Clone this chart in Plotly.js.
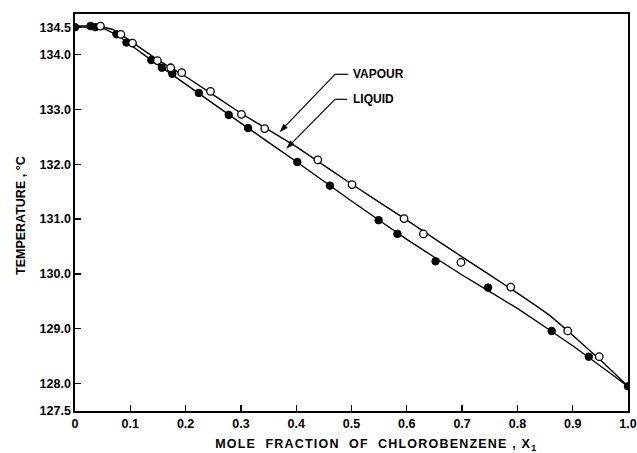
<!DOCTYPE html>
<html>
<head>
<meta charset="utf-8">
<script src="https://cdn.plot.ly/plotly-3.0.1.min.js"></script>
<style>
html,body{margin:0;padding:0;background:#fff;}
#chart{width:637px;height:453px;}
</style>
</head>
<body>
<div id="chart"></div>
<script>
// Measured points: liquid (filled circles)
const liquidX = [0.0, 0.028, 0.037, 0.075, 0.093, 0.138, 0.157, 0.176, 0.224, 0.278, 0.313, 0.402, 0.461, 0.549, 0.583, 0.652, 0.747, 0.862, 0.929, 1.0];
const liquidT = [134.50, 134.52, 134.50, 134.37, 134.22, 133.90, 133.76, 133.65, 133.30, 132.90, 132.66, 132.04, 131.61, 130.98, 130.73, 130.23, 129.75, 128.96, 128.49, 127.95];
// Measured points: vapour (open circles)
const vapourX = [0.046, 0.083, 0.104, 0.149, 0.173, 0.193, 0.245, 0.301, 0.343, 0.439, 0.501, 0.595, 0.630, 0.698, 0.788, 0.891, 0.948];
const vapourT = [134.52, 134.37, 134.21, 133.89, 133.76, 133.67, 133.33, 132.91, 132.65, 132.08, 131.63, 131.01, 130.73, 130.21, 129.76, 128.96, 128.49];
// Drawn curves
const liqCurveX = [0, 0.03, 0.055, 0.08, 0.12, 0.2, 0.3, 0.4, 0.5, 0.6, 0.7, 0.8, 0.9, 1.0];
const liqCurveT = [134.5, 134.5, 134.46, 134.33, 134.03, 133.46, 132.75, 132.05, 131.33, 130.63, 129.98, 129.37, 128.69, 127.95];
const vapCurveX = [0, 0.04, 0.07, 0.1, 0.15, 0.2, 0.3, 0.4, 0.5, 0.6, 0.7, 0.8, 0.86, 0.9, 0.95, 1.0];
const vapCurveT = [134.52, 134.52, 134.45, 134.25, 133.9, 133.6, 132.93, 132.32, 131.64, 130.98, 130.31, 129.65, 129.23, 128.88, 128.43, 127.95];
// Ticks
const xTickVals = [0, 0.1, 0.2, 0.3, 0.4, 0.5, 0.6, 0.7, 0.8, 0.9, 1.0];
const xTickText = ['0', '0.1', '0.2', '0.3', '0.4', '0.5', '0.6', '0.7', '0.8', '0.9', '1.0'];
const yTickVals = [127.5, 128, 129, 130, 131, 132, 133, 134, 134.5];
const yTickText = ['127.5', '128.0', '129.0', '130.0', '131.0', '132.0', '133.0', '134.0', '134.5'];
// Labels
const labels = {vapour: 'VAPOUR', liquid: 'LIQUID'};
const xTitle = 'MOLE  FRACTION  OF  CHLOROBENZENE , X<sub>1</sub>';
const yTitle = 'TEMPERATURE , °C';

const FONT = 'Liberation Sans, Arial, sans-serif';
const W = 637, H = 453, M = {l: 75, r: 9, t: 14, b: 42};
const XR = [0, 1], YR = [127.5, 134.74];
const plotW = W - M.l - M.r, plotH = H - M.t - M.b;
// pixel -> data helpers for annotation geometry
const px2x = px => XR[0] + (px - M.l) / plotW * (XR[1] - XR[0]);
const py2y = py => YR[1] - (py - M.t) / plotH * (YR[1] - YR[0]);

function leader(bend, tip, hEnd) {
  const dx = tip[0] - bend[0], dy = tip[1] - bend[1];
  const L = Math.hypot(dx, dy), ux = dx / L, uy = dy / L;
  const len = 8, hw = 2.6;
  const bx = tip[0] - ux * len, by = tip[1] - uy * len;
  const p1 = [bx - uy * hw, by + ux * hw], p2 = [bx + uy * hw, by - ux * hw];
  const P = p => px2x(p[0]) + ',' + py2y(p[1]);
  return [
    {type: 'line', xref: 'x', yref: 'y', x0: px2x(hEnd), y0: py2y(bend[1]), x1: px2x(bend[0]), y1: py2y(bend[1]), line: {color: '#000', width: 1.2}},
    {type: 'line', xref: 'x', yref: 'y', x0: px2x(bend[0]), y0: py2y(bend[1]), x1: px2x(bx), y1: py2y(by), line: {color: '#000', width: 1.2}},
    {type: 'path', xref: 'x', yref: 'y', path: 'M' + P(tip) + ' L' + P(p1) + ' L' + P(p2) + ' Z', fillcolor: '#000', line: {color: '#000', width: 0.5}}
  ];
}

const traces = [
  {x: liqCurveX, y: liqCurveT, mode: 'lines', line: {color: '#000', width: 1.4, shape: 'spline', smoothing: 0.3}, hoverinfo: 'skip', showlegend: false},
  {x: vapCurveX, y: vapCurveT, mode: 'lines', line: {color: '#000', width: 1.4, shape: 'spline', smoothing: 0.3}, hoverinfo: 'skip', showlegend: false},
  {x: liquidX, y: liquidT, mode: 'markers', marker: {symbol: 'circle', size: 7.5, color: '#000', line: {color: '#000', width: 1}}, showlegend: false},
  {x: vapourX, y: vapourT, mode: 'markers', marker: {symbol: 'circle', size: 7.5, color: '#fff', line: {color: '#000', width: 1.3}}, showlegend: false}
];

const axisCommon = {
  showgrid: false, zeroline: false, showline: true, linecolor: '#000', linewidth: 1.6, mirror: true,
  ticks: 'inside', ticklen: 6, tickwidth: 1.4, tickcolor: '#000',
  tickfont: {family: FONT, size: 12.5, color: '#000', weight: 'bold'}
};
const titleFont = {family: FONT, size: 12.5, color: '#000', weight: 'bold'};

const layout = {
  width: W, height: H,
  margin: M,
  paper_bgcolor: '#fff', plot_bgcolor: '#fff',
  xaxis: Object.assign({}, axisCommon, {range: XR, tickmode: 'array', tickvals: xTickVals, ticktext: xTickText, ticklabelstandoff: 0}),
  yaxis: Object.assign({}, axisCommon, {range: YR, tickmode: 'array', tickvals: yTickVals, ticktext: yTickText}),
  shapes: [].concat(
    leader([335, 74.3], [280, 131.7], 348),
    leader([335, 99.3], [286.7, 148.3], 347)
  ),
  annotations: [
    {x: px2x(351), y: py2y(74.3), xref: 'x', yref: 'y', text: labels.vapour, showarrow: false, xanchor: 'left', yanchor: 'middle', font: {family: FONT, size: 12, color: '#000', weight: 'bold'}},
    {x: px2x(351), y: py2y(99.3), xref: 'x', yref: 'y', text: labels.liquid, showarrow: false, xanchor: 'left', yanchor: 'middle', font: {family: FONT, size: 12, color: '#000', weight: 'bold'}},
    {x: (376 - M.l) / plotW, y: -(445 - (H - M.b)) / plotH, xref: 'paper', yref: 'paper',
     text: xTitle, showarrow: false, xanchor: 'center', yanchor: 'middle', font: titleFont},
    {x: (21 - M.l) / plotW, y: ((H - M.b) - 216) / plotH, xref: 'paper', yref: 'paper',
     text: yTitle, textangle: -90, showarrow: false, xanchor: 'center', yanchor: 'middle', font: titleFont}
  ]
};

Plotly.newPlot('chart', traces, layout, {displayModeBar: false, staticPlot: true}).then(function(){
  document.querySelectorAll('.annotation-text').forEach(function(t){
    if (t.textContent.indexOf('MOLE') === 0) { t.style.letterSpacing = '1.2px'; }
  });
});
</script>
</body>
</html>
